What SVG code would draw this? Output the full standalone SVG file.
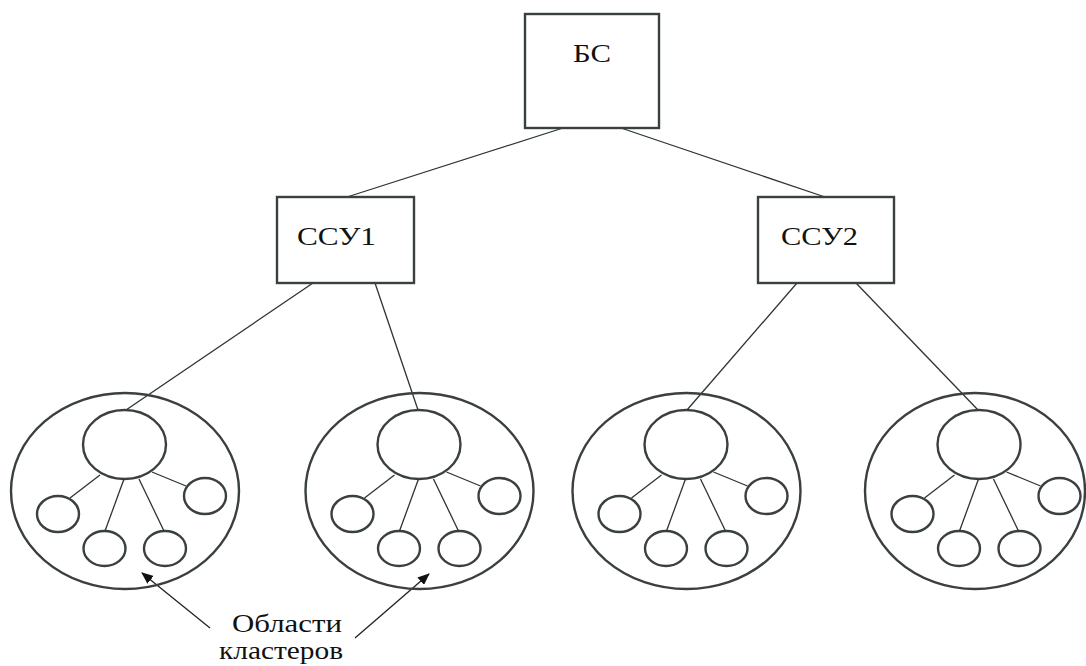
<svg xmlns="http://www.w3.org/2000/svg" width="1086" height="666" viewBox="0 0 1086 666">
<style>
.box{fill:#fff;stroke:#3a3f3f;stroke-width:2.4}
.shape{fill:none;stroke:#3a3f3f;stroke-width:2.4}
.link{stroke:#2f3333;stroke-width:1.3;fill:none}
.arr{stroke:#222;stroke-width:1.3;fill:none;marker-end:url(#ah)}
.lbl{font-family:"Liberation Serif","Times New Roman",serif;fill:#111;font-size:25px}
</style>
<defs>
<marker id="ah" viewBox="0 0 12 10" refX="11" refY="5" markerWidth="12" markerHeight="10" markerUnits="userSpaceOnUse" orient="auto">
<path d="M0,0 L12,5 L0,10 Z" fill="#111"/>
</marker>
<g id="clusterShape">
<ellipse class="shape" cx="125" cy="491" rx="114" ry="98"/>
<ellipse class="shape" cx="124.5" cy="444.5" rx="41.5" ry="34.5"/>
<ellipse class="shape" cx="58" cy="514" rx="21" ry="18"/>
<ellipse class="shape" cx="104.5" cy="548.5" rx="21" ry="17.5"/>
<ellipse class="shape" cx="165" cy="548.5" rx="21" ry="17.5"/>
<ellipse class="shape" cx="205" cy="496" rx="21" ry="18"/>
<line class="link" x1="100" y1="475" x2="70" y2="498"/>
<line class="link" x1="124" y1="479" x2="105" y2="531"/>
<line class="link" x1="139" y1="479" x2="164" y2="531"/>
<line class="link" x1="152" y1="472" x2="186" y2="486"/>
</g>
</defs>
<g id="connectors">
<line class="link" x1="563" y1="128" x2="347" y2="197"/>
<line class="link" x1="621" y1="128" x2="825" y2="197"/>
<line class="link" x1="313" y1="283" x2="126" y2="410"/>
<line class="link" x1="375" y1="283" x2="418" y2="410"/>
<line class="link" x1="797" y1="283" x2="687" y2="410"/>
<line class="link" x1="856" y1="283" x2="978" y2="410"/>
<line class="arr" x1="210" y1="628" x2="142" y2="573"/>
<line class="arr" x1="355" y1="638" x2="429" y2="574"/>
</g>
<g id="bs">
<rect class="box" x="525" y="14" width="134" height="114"/>
<text class="lbl" x="573" y="62" textLength="38" lengthAdjust="spacingAndGlyphs">БС</text>
</g>
<g id="ssu1">
<rect class="box" x="277" y="197" width="137" height="86"/>
<text class="lbl" x="297" y="245" font-size="24" textLength="79" lengthAdjust="spacingAndGlyphs">ССУ1</text>
</g>
<g id="ssu2">
<rect class="box" x="758" y="197" width="136" height="86"/>
<text class="lbl" x="781" y="245" font-size="24" textLength="77" lengthAdjust="spacingAndGlyphs">ССУ2</text>
</g>
<g id="cluster1">
<use href="#clusterShape"/>
</g>
<g id="cluster2">
<use href="#clusterShape" transform="translate(294.5,0)"/>
</g>
<g id="cluster3">
<use href="#clusterShape" transform="translate(561.5,0)"/>
</g>
<g id="cluster4">
<ellipse class="shape" cx="975" cy="491" rx="110" ry="98"/>
<g transform="translate(854.5,0)">
<ellipse class="shape" cx="124.5" cy="444.5" rx="41.5" ry="34.5"/>
<ellipse class="shape" cx="58" cy="514" rx="21" ry="18"/>
<ellipse class="shape" cx="104.5" cy="548.5" rx="21" ry="17.5"/>
<ellipse class="shape" cx="165" cy="548.5" rx="21" ry="17.5"/>
<ellipse class="shape" cx="205" cy="496" rx="21" ry="18"/>
<line class="link" x1="100" y1="475" x2="70" y2="498"/>
<line class="link" x1="124" y1="479" x2="105" y2="531"/>
<line class="link" x1="139" y1="479" x2="164" y2="531"/>
<line class="link" x1="152" y1="472" x2="186" y2="486"/>
</g>
</g>
<g id="label">
<text class="lbl" x="232" y="632" font-size="24" textLength="110" lengthAdjust="spacingAndGlyphs">Области</text>
<text class="lbl" x="219" y="659" font-size="24" textLength="124" lengthAdjust="spacingAndGlyphs">кластеров</text>
</g>
</svg>
